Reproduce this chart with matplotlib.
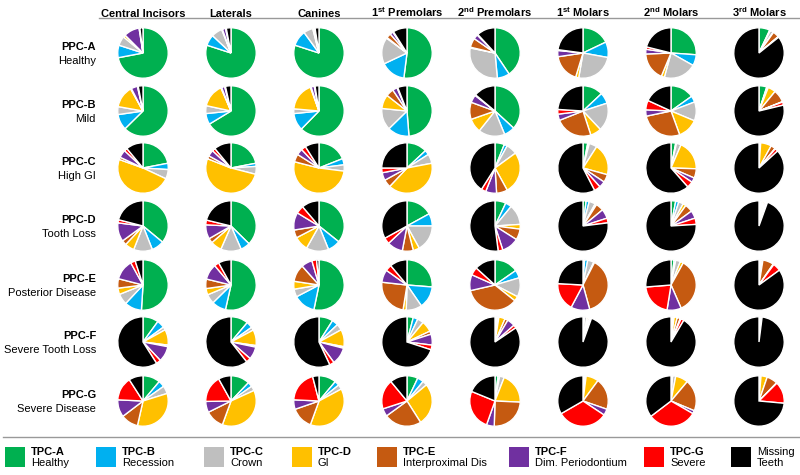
import numpy as np
import matplotlib
matplotlib.use('Agg')
import matplotlib.pyplot as plt

plt.rcParams['font.family'] = ['Liberation Sans', 'DejaVu Sans']
plt.rcParams['mathtext.fontset'] = 'custom'
plt.rcParams['mathtext.rm'] = 'Liberation Sans'
plt.rcParams['mathtext.bf'] = 'Liberation Sans:bold'

# DADOS

columns = ['Central Incisors', 'Laterals', 'Canines',
           r'1$^{\mathbf{st}}$ Premolars', r'2$^{\mathbf{nd}}$ Premolars',
           r'1$^{\mathbf{st}}$ Molars', r'2$^{\mathbf{nd}}$ Molars',
           r'3$^{\mathbf{rd}}$ Molars']
row_names = ['PPC-A', 'PPC-B', 'PPC-C', 'PPC-D', 'PPC-E', 'PPC-F', 'PPC-G']
row_subs = ['Healthy', 'Mild', 'High GI', 'Tooth Loss', 'Posterior Disease',
            'Severe Tooth Loss', 'Severe Disease']
legend_top = ['TPC-A', 'TPC-B', 'TPC-C', 'TPC-D', 'TPC-E', 'TPC-F', 'TPC-G', 'Missing']
legend_bot = ['Healthy', 'Recession', 'Crown', 'GI', 'Interproximal Dis',
              'Dim. Periodontium', 'Severe', 'Teeth']
colors = ['#00B050', '#00B0F0', '#BFBFBF', '#FFC000', '#C55A11', '#7030A0', '#FF0000', '#000000']

# ordem: A, B, C, D, E, F, G, Missing (%)
ppc_a = [[72, 8, 6, 1.5, 0, 10, 0.5, 2],
         [80, 7, 7, 0.5, 0, 2, 0.5, 3],
         [80, 10, 6, 0.5, 0, 0.5, 0.5, 2.5],
         [52, 16, 17, 0.5, 3, 2, 0.5, 9],
         [41, 8, 30, 0.5, 6, 3, 0.5, 12],
         [18, 10, 25, 2, 18, 4, 0.5, 23],
         [26, 7, 21, 2, 18, 3, 1.5, 21],
         [7, 0.5, 2, 0.3, 4, 0.2, 0.3, 86]]
ppc_b = [[62, 10, 5, 14, 0.5, 4, 0.5, 3],
         [66, 7, 5, 15, 0.5, 2, 0.5, 3.5],
         [62, 11, 3, 18, 0.5, 2, 0.5, 2.5],
         [49, 14, 14, 9, 5, 3, 0.5, 6],
         [37, 7, 17, 9, 11, 5, 0.5, 14],
         [13, 7, 18, 7, 24, 4, 3, 24],
         [15, 4, 12, 13, 27, 4, 6, 18],
         [5, 0.5, 0.5, 5, 8, 0.3, 2, 79]]
ppc_c = [[22, 4, 6, 48.5, 1.5, 5, 2, 11],
         [22, 2, 5, 52, 2, 4, 2, 11],
         [19, 4, 4, 52, 5, 4, 3, 9],
         [13, 3, 6, 40, 5, 5, 3, 25],
         [6, 2, 7, 27, 7, 7, 3, 41],
         [3, 1, 5, 20, 5, 4, 4, 57],
         [3, 0.5, 3, 19, 6, 3, 4, 61.5],
         [0.5, 0.3, 0.3, 7, 3, 0.3, 2, 88]]
ppc_d = [[36, 8, 12, 6, 3, 12, 2, 21],
         [37, 6, 13, 7, 3, 9, 3, 21],
         [35, 8, 14, 9, 5, 11, 5, 11],
         [17, 8, 17, 4, 7, 10, 4, 33],
         [7, 4, 13, 3, 7, 11, 3, 52],
         [2, 2, 4, 1, 5, 6, 3, 77],
         [3, 2, 3, 2, 5, 5, 4, 76],
         [1, 0.5, 1, 1, 1, 0.5, 0.5, 94.5]]
ppc_e = [[51, 11, 7, 4, 6, 13, 3, 5],
         [53, 9, 6, 4, 6, 10, 3, 8],
         [53, 14, 5, 5, 11, 7, 3, 1.5],
         [26, 14, 10, 2, 24, 8, 4, 11],
         [15, 5, 12, 3, 35, 10, 5, 13],
         [1, 2, 4, 0.5, 38, 12, 18, 24],
         [2, 1, 3, 2, 35, 9, 21, 26],
         [0.5, 0.5, 0.5, 1, 7, 0.5, 5, 85]]
ppc_f = [[10, 5, 2, 10, 1, 10, 3, 59],
         [11, 4, 2, 10, 1, 8, 3, 60],
         [9, 4, 4, 11, 1, 11, 3, 57],
         [4, 3, 4, 7, 2, 7, 3, 70],
         [1, 0.5, 1, 4, 2, 5, 2, 84.5],
         [0.5, 0.5, 1.5, 1, 1, 0.5, 0.5, 94.5],
         [0.5, 0.5, 1, 2, 2, 0.5, 2, 91.5],
         [0.3, 0.2, 0.5, 0.3, 0.3, 0.2, 0.2, 98]]
ppc_g = [[11, 4, 5, 33, 11, 11, 15, 9],
         [12, 3, 3, 37, 12, 7, 17, 8],
         [11, 3, 3, 38, 14, 6, 20, 4],
         [7, 4, 3, 27, 24, 5, 19, 11],
         [2, 1, 3, 20, 25, 5, 26, 19],
         [0.5, 0.5, 1, 8, 20, 4, 32, 33],
         [0.5, 0.5, 2, 8, 20, 2, 31, 35],
         [0.5, 0.3, 0.5, 4, 7, 0.3, 14, 74]]
all_rows = [ppc_a, ppc_b, ppc_c, ppc_d, ppc_e, ppc_f, ppc_g]

# LAYOUT (pixels)
W, H = 800, 475
col_x = [143, 231, 319, 407, 495, 583, 671, 759]
row_y = [53, 111, 168, 226, 285, 342, 401]
rad = 26

fig = plt.figure(figsize=(8, 4.75), dpi=100)


def fx(px):
    return px / W


def fy(py):
    return 1 - py / H


for i, row in enumerate(all_rows):
    for j, vals in enumerate(row):
        ax = fig.add_axes([fx(col_x[j] - rad), fy(row_y[i] + rad), 2 * rad / W, 2 * rad / H])
        ax.pie(vals, colors=colors, startangle=90, counterclock=False,
               wedgeprops=dict(edgecolor='white', linewidth=1.0))
        ax.set_xlim(-1.03, 1.03)
        ax.set_ylim(-1.03, 1.03)
        ax.set_aspect('equal')
        ax.axis('off')

# cabecalho
for j, name in enumerate(columns):
    fig.text(fx(col_x[j]), fy(17), name, ha='center', va='baseline',
             fontsize=8, fontweight='bold')
fig.add_artist(plt.Line2D([fx(99), fx(800)], [fy(17.5), fy(17.5)],
                          color='#999999', linewidth=1))

# linhas
for i in range(len(row_names)):
    fig.text(fx(96), fy(row_y[i] - 6), row_names[i], ha='right', va='center',
             fontsize=8, fontweight='bold')
    fig.text(fx(96), fy(row_y[i] + 8), row_subs[i], ha='right', va='center',
             fontsize=8)

# legenda
fig.add_artist(plt.Line2D([fx(3), fx(800)], [fy(437), fy(437)],
                          color='#999999', linewidth=1))
leg_x = [5, 96, 204, 292, 377, 509, 644, 731]
for k in range(len(colors)):
    fig.add_artist(plt.Rectangle((fx(leg_x[k]), fy(467)), 20 / W, 20 / H,
                                 facecolor=colors[k], edgecolor='none'))
    weight = 'normal' if legend_top[k] == 'Missing' else 'bold'
    fig.text(fx(leg_x[k] + 26), fy(452), legend_top[k], ha='left', va='center',
             fontsize=8, fontweight=weight)
    fig.text(fx(leg_x[k] + 26), fy(463), legend_bot[k], ha='left', va='center',
             fontsize=8)

plt.savefig('out.png', dpi=100)
